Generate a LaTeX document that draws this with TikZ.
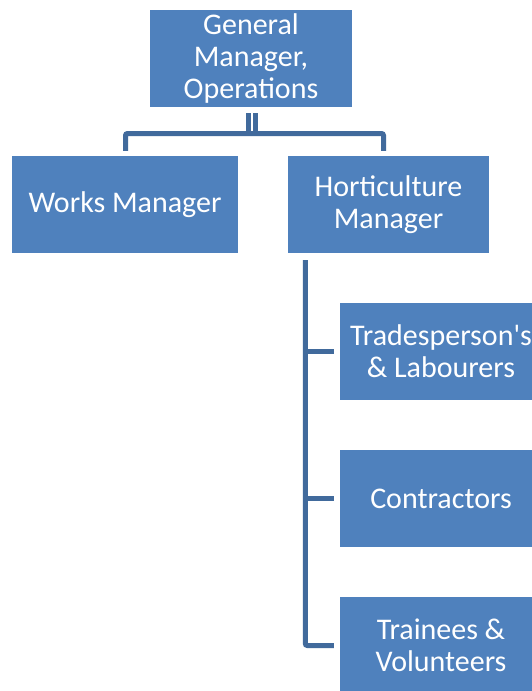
\documentclass[tikz,border=0pt]{standalone}
\usepackage{fontspec}
\setmainfont{Carlito}
\definecolor{boxblue}{RGB}{79,129,189}
\definecolor{connblue}{RGB}{65,106,156}
\begin{document}
\begin{tikzpicture}[x=1pt,y=1pt,
  box/.style={fill=boxblue,draw=none,text=white,align=center,inner sep=0pt,
    font=\fontsize{30}{32}\selectfont},
  conn/.style={draw=connblue,line width=5pt,rounded corners=2pt}]
\useasboundingbox[fill=white] (0,0) rectangle (532,-691);
\begin{scope}
\clip (0,0) rectangle (532,-691);
\node[box,minimum width=202pt,minimum height=97pt] (gm) at (251,-58.5) {General\\Manager,\\Operations};
\node[box,minimum width=226pt,minimum height=97pt] (wm) at (125,-204.5) {Works Manager};
\node[box,minimum width=201pt,minimum height=97pt] (hm) at (388.5,-204.5) {Horticulture\\Manager};
\node[box,minimum width=202pt,minimum height=97pt] (tl) at (441,-351.5) {Tradesperson\textquotesingle s\\\& Labourers};
\node[box,minimum width=202pt,minimum height=97pt] (co) at (441,-498.5) {Contractors};
\node[box,minimum width=202pt,minimum height=97pt] (tv) at (441,-645.5) {Trainees \&\\Volunteers};
\coordinate (bar) at (254.5,-133.5);
\draw[conn] ([xshift=-3pt,yshift=-6pt]gm.south) -- ++(0,-22);
\draw[conn] ([xshift=4pt,yshift=-6pt]gm.south) -- ++(0,-22);
\draw[conn] ([xshift=0.5pt,yshift=5pt]wm.north) |- (bar) -| ([xshift=-5pt,yshift=5pt]hm.north);
\coordinate (sp) at ([xshift=17.5pt,yshift=-7pt]hm.south west);
\draw[conn] (sp) |- ([xshift=-6pt]tv.west);
\draw[conn] ([xshift=-6pt]tl.west) -- (tl.west -| sp);
\draw[conn] ([xshift=-6pt]co.west) -- (co.west -| sp);
\end{scope}
\end{tikzpicture}
\end{document}
